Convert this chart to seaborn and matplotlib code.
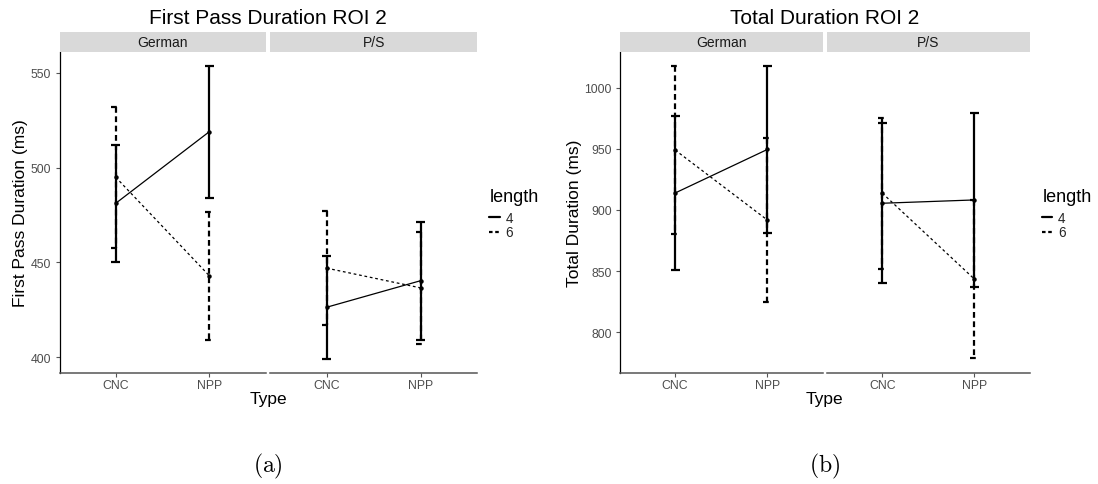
import matplotlib
matplotlib.use("Agg")
import matplotlib.pyplot as plt
import numpy as np
import pandas as pd
import seaborn as sns
from matplotlib.lines import Line2D

sns.set_theme(style="white")
plt.rcParams["font.family"] = ["Liberation Sans", "DejaVu Sans"]
plt.rcParams["mathtext.fontset"] = "cm"

# ---- data -------------------------------------------------------------
types = ["CNC", "NPP"]
groups = ["German", "P/S"]
lengths = ["4", "6"]

# First pass duration in ROI 2 (ms): means and standard errors per Type
fp_german_len4_mean = [481.2, 519.0]
fp_german_len4_se = [31.0, 34.9]
fp_german_len6_mean = [495.0, 443.0]
fp_german_len6_se = [37.1, 33.7]
fp_ps_len4_mean = [426.4, 440.4]
fp_ps_len4_se = [27.2, 31.1]
fp_ps_len6_mean = [447.0, 436.6]
fp_ps_len6_se = [30.2, 29.4]

# Total duration in ROI 2 (ms)
td_german_len4_mean = [913.9, 949.5]
td_german_len4_se = [63.1, 68.0]
td_german_len6_mean = [949.0, 891.8]
td_german_len6_se = [68.9, 66.8]
td_ps_len4_mean = [905.5, 908.2]
td_ps_len4_se = [65.5, 71.2]
td_ps_len6_mean = [913.7, 843.5]
td_ps_len6_se = [61.9, 64.9]

fp_yticks = [400, 450, 500, 550]
td_yticks = [800, 850, 900, 950, 1000]


def build_frame(g4m, g4s, g6m, g6s, p4m, p4s, p6m, p6s):
    rows = []
    table = {
        ("German", "4"): (g4m, g4s),
        ("German", "6"): (g6m, g6s),
        ("P/S", "4"): (p4m, p4s),
        ("P/S", "6"): (p6m, p6s),
    }
    for (grp, ln), (means, ses) in table.items():
        for i, t in enumerate(types):
            rows.append({"group": grp, "length": ln, "Type": t,
                         "pos": types.index(t), "mean": means[i], "se": ses[i]})
    return pd.DataFrame(rows)


fp_df = build_frame(fp_german_len4_mean, fp_german_len4_se,
                    fp_german_len6_mean, fp_german_len6_se,
                    fp_ps_len4_mean, fp_ps_len4_se,
                    fp_ps_len6_mean, fp_ps_len6_se)
td_df = build_frame(td_german_len4_mean, td_german_len4_se,
                    td_german_len6_mean, td_german_len6_se,
                    td_ps_len4_mean, td_ps_len4_se,
                    td_ps_len6_mean, td_ps_len6_se)

# ---- figure -----------------------------------------------------------
W, H = 1098, 485
fig = plt.figure(figsize=(W / 100, H / 100), dpi=100)
fig.patch.set_facecolor("white")

PANEL_TOP, PANEL_BOTTOM = 52.7, 374.0
STRIP_TOP = 33.3
TICK_GRAY = "#4D4D4D"

bar_styles = {"4": (None, 1.6), "6": ((2.6, 1.6), 1.6)}
line_dashes = {"4": "", "6": (2.2, 2.2)}


def px_axes(x0, x1, y0, y1):
    return fig.add_axes([x0 / W, 1 - y1 / H, (x1 - x0) / W, (y1 - y0) / H])


def draw_errorbars(ax, sub):
    cap = 0.05
    for ln in lengths:
        d = sub[sub["length"] == ln]
        dash, lw = bar_styles[ln]
        for _, r in d.iterrows():
            x, lo, hi = r["pos"], r["mean"] - r["se"], r["mean"] + r["se"]
            segs = [([x - cap, x + cap], [hi, hi]),
                    ([x, x], [hi, lo]),
                    ([x - cap, x + cap], [lo, lo])]
            for xs, ys in segs:
                ln_obj, = ax.plot(xs, ys, color="black", lw=lw,
                                  solid_capstyle="butt", dash_capstyle="butt",
                                  zorder=2)
                if dash is not None:
                    ln_obj.set_dashes(dash)


def draw_chart(df, xs, ylim, yticks, title, ylabel, ylabel_x, legend_x, caption):
    axes = []
    for k, grp in enumerate(groups):
        x0, x1 = xs[k]
        ax = px_axes(x0, x1, PANEL_TOP, PANEL_BOTTOM)
        sub = df[df["group"] == grp]
        draw_errorbars(ax, sub)
        sns.lineplot(data=sub, x="pos", y="mean", style="length",
                     style_order=lengths, dashes=line_dashes,
                     markers={"4": "o", "6": "o"}, color="black",
                     lw=0.9, markersize=3.2, markeredgewidth=0,
                     legend=False, sort=False, errorbar=None, ax=ax, zorder=3)
        ax.set_xlim(-0.6, 1.6)
        ax.set_ylim(*ylim)
        ax.set_xticks(range(len(types)))
        ax.set_xticklabels(types)
        ax.set_xlabel("")
        ax.set_ylabel("")
        ax.set_facecolor("white")
        for s in ("top", "right"):
            ax.spines[s].set_visible(False)
        ax.spines["bottom"].set_color("#555555")
        ax.spines["bottom"].set_linewidth(1.1)
        ax.tick_params(axis="x", length=3, width=0.8, color="#555555",
                       labelsize=8.8, labelcolor=TICK_GRAY, pad=1.5,
                       bottom=True)
        if k == 0:
            ax.spines["left"].set_color("black")
            ax.spines["left"].set_linewidth(0.9)
            ax.set_yticks(yticks)
            ax.tick_params(axis="y", length=3, width=0.8, color="#555555",
                           labelsize=8.8, labelcolor=TICK_GRAY, pad=3,
                           left=True)
        else:
            ax.spines["left"].set_visible(False)
            ax.set_yticks(yticks)
            ax.tick_params(axis="y", left=False, labelleft=False)
        ax.grid(False)

        # facet strip
        st = px_axes(x0, x1, STRIP_TOP, PANEL_TOP)
        st.set_facecolor("#D9D9D9")
        st.set_xticks([])
        st.set_yticks([])
        for s in st.spines.values():
            s.set_visible(False)
        st.text(0.5, 0.5, grp, ha="center", va="center", fontsize=10,
                color="#1A1A1A", transform=st.transAxes)
        axes.append(ax)

    cx = (xs[0][0] + xs[1][1]) / 2
    fig.text(cx / W, 1 - 18.5 / H, title, ha="center", va="center",
             fontsize=15, color="black")
    fig.text(cx / W, 1 - 400 / H, "Type", ha="center", va="center",
             fontsize=12.5, color="black")
    fig.text(ylabel_x / W, 1 - (PANEL_TOP + PANEL_BOTTOM) / 2 / H, ylabel,
             rotation=90, ha="center", va="center", fontsize=12.5,
             color="black")
    fig.text(cx / W, 1 - 466 / H, caption, ha="center", va="center",
             fontsize=17, color="black")

    # legend for line type
    fig.text((legend_x + 1) / W, 1 - 198 / H, "length", ha="left",
             va="center", fontsize=13, color="black")
    handles = [Line2D([], [], color="black", lw=1.6),
               Line2D([], [], color="black", lw=1.6, dashes=(1.6, 1.2))]
    fig.legend(handles, lengths, loc="upper left",
               bbox_to_anchor=(legend_x / W, 1 - 212 / H),
               frameon=False, fontsize=9.8,
               handlelength=0.8, handletextpad=0.4, labelspacing=0.02,
               borderpad=0, borderaxespad=0)
    return axes


draw_chart(fp_df, [(59.5, 265.5), (270.4, 477.0)], (391.7, 561.2), fp_yticks,
           "First Pass Duration ROI 2", "First Pass Duration (ms)", 20.7,
           489.0, r"$\mathrm{(a)}$")
draw_chart(td_df, [(619.9, 822.6), (827.2, 1029.5)], (766.6, 1029.5), td_yticks,
           "Total Duration ROI 2", "Total Duration (ms)", 575.0,
           1041.5, r"$\mathrm{(b)}$")

fig.savefig("out.png", dpi=100, facecolor="white")
